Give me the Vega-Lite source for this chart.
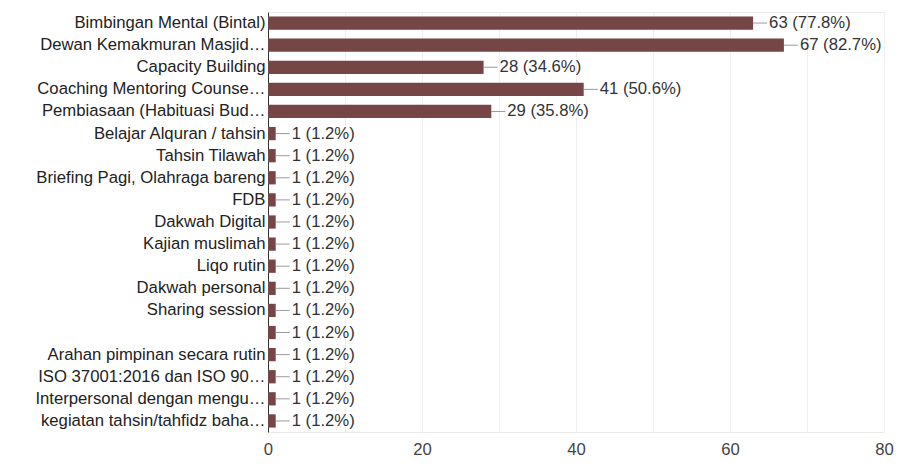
{
  "$schema": "https://vega.github.io/schema/vega-lite/v6.json",
  "width": 616,
  "height": 420,
  "autosize": {"type": "none"},
  "padding": {"left": 268, "top": 12, "right": 18, "bottom": 37},
  "background": "white",
  "config": {
    "font": "Liberation Sans",
    "view": {"stroke": "#ebebeb", "strokeWidth": 1}
  },
  "data": {
    "values": [
      {"category": "Bimbingan Mental (Bintal)", "count": 63, "label": "63 (77.8%)"},
      {"category": "Dewan Kemakmuran Masjid…", "count": 67, "label": "67 (82.7%)"},
      {"category": "Capacity Building", "count": 28, "label": "28 (34.6%)"},
      {"category": "Coaching Mentoring Counse…", "count": 41, "label": "41 (50.6%)"},
      {"category": "Pembiasaan (Habituasi Bud…", "count": 29, "label": "29 (35.8%)"},
      {"category": "Belajar Alquran / tahsin", "count": 1, "label": "1 (1.2%)"},
      {"category": "Tahsin Tilawah", "count": 1, "label": "1 (1.2%)"},
      {"category": "Briefing Pagi, Olahraga bareng", "count": 1, "label": "1 (1.2%)"},
      {"category": "FDB", "count": 1, "label": "1 (1.2%)"},
      {"category": "Dakwah Digital", "count": 1, "label": "1 (1.2%)"},
      {"category": "Kajian muslimah", "count": 1, "label": "1 (1.2%)"},
      {"category": "Liqo rutin", "count": 1, "label": "1 (1.2%)"},
      {"category": "Dakwah personal", "count": 1, "label": "1 (1.2%)"},
      {"category": "Sharing session", "count": 1, "label": "1 (1.2%)"},
      {"category": " ", "count": 1, "label": "1 (1.2%)"},
      {"category": "Arahan pimpinan secara rutin", "count": 1, "label": "1 (1.2%)"},
      {"category": "ISO 37001:2016 dan ISO 90…", "count": 1, "label": "1 (1.2%)"},
      {"category": "Interpersonal dengan mengu…", "count": 1, "label": "1 (1.2%)"},
      {"category": "kegiatan tahsin/tahfidz baha…", "count": 1, "label": "1 (1.2%)"}
    ]
  },
  "encoding": {
    "y": {
      "field": "category",
      "type": "nominal",
      "sort": null,
      "scale": {"paddingInner": 0.4, "paddingOuter": 0.2},
      "axis": {
        "title": null,
        "ticks": false,
        "tickSize": 0,
        "labelPadding": 3,
        "labelLimit": 400,
        "labelFontSize": 16.7,
        "labelColor": "#222222",
        "domainColor": "#333333",
        "domainWidth": 1,
        "grid": false
      }
    }
  },
  "layer": [
    {
      "mark": {"type": "bar", "color": "#764545"},
      "encoding": {
        "x": {
          "field": "count",
          "type": "quantitative",
          "scale": {"domain": [0, 80], "nice": false},
          "axis": {
            "title": null,
            "values": [0, 10, 20, 30, 40, 50, 60, 70, 80],
            "labelExpr": "datum.value % 20 == 0 ? datum.label : ''",
            "labelFlush": false,
            "ticks": false,
            "domain": false,
            "grid": true,
            "gridColor": "#efefef",
            "labelFontSize": 16.7,
            "labelColor": "#444444",
            "labelPadding": 9
          }
        }
      }
    },
    {
      "mark": {"type": "rule", "color": "#9a9a9a", "strokeWidth": 1, "x2Offset": 14},
      "encoding": {
        "x": {"field": "count", "type": "quantitative"},
        "x2": {"field": "count"}
      }
    },
    {
      "mark": {"type": "text", "align": "left", "baseline": "middle", "dx": 16, "fontSize": 16.7, "color": "#333333"},
      "encoding": {
        "x": {"field": "count", "type": "quantitative"},
        "text": {"field": "label"}
      }
    }
  ]
}
